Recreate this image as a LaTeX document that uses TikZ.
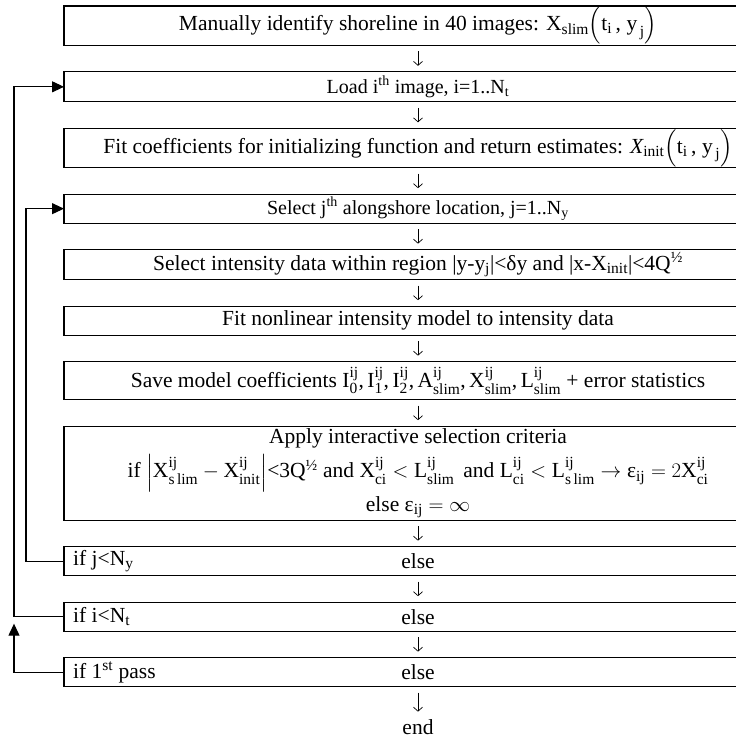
\documentclass[tikz,border=0pt]{standalone}
\usepackage{fontspec}
\usepackage{amsmath}
\usepackage{tikz}
\usetikzlibrary{arrows.meta, positioning, calc}
\setmainfont{Liberation Serif}
\DeclareMathSizes{21.5}{21.5}{15.5}{12}
\newcommand{\ttxt}[1]{\text{#1}}
\tikzset{
  stepbox/.style={rectangle, draw=black, minimum width=708pt, outer sep=0pt,
    align=center, inner sep=1pt, line width=1.1pt},
  smallbox/.style={stepbox, font=\fontsize{20}{23}\selectfont},
  iftext/.style={anchor=west, inner sep=2pt},
  flowarrow/.style={-{Straight Barb[length=4pt, width=9pt]}, line width=0.7pt,
    shorten <=6pt, shorten >=6pt},
  looparrow/.style={-{Triangle[length=12pt, width=11pt]}, line width=1.1pt}
}

\begin{document}
\begin{tikzpicture}[x=1pt, y=-1pt, node distance=26.5pt,
  font=\fontsize{21.5}{24}\selectfont]
  \fill[white] (0,0) rectangle (735,743);
  \useasboundingbox (0,0) rectangle (735,743);
  \coordinate (outl) at (14,0);
  \coordinate (inl) at (26,0);

  \node[stepbox, minimum height=38pt, anchor=north west] (b1) at (64,6)
    {Manually identify shoreline in 40 images: $\ttxt{X}_{\ttxt{slim}}\Bigl(\ttxt{t}_{\ttxt{i}}\,\ttxt{,}\;\ttxt{y}_{\,\ttxt{j}}\Bigr)$};
  \node[smallbox, minimum height=30pt, below=of b1] (b2)
    {Load i\textsuperscript{th} image, i=1..N\textsubscript{t}};
  \node[stepbox, minimum height=38pt, below=of b2] (b3)
    {Fit coefficients for initializing function and return estimates: $\ttxt{\itshape X}_{\ttxt{init}}\Bigl(\ttxt{t}_{\ttxt{i}}\,\ttxt{,}\;\ttxt{y}_{\,\ttxt{j}}\Bigr)$};
  \node[smallbox, minimum height=29pt, below=of b3] (b4)
    {Select j\textsuperscript{th} alongshore location, j=1..N\textsubscript{y}};
  \node[stepbox, minimum height=30pt, below=of b4] (b5)
    {Select intensity data within region |y-y\textsubscript{j}|<δy and |x-X\textsubscript{init}|<4Q\textsuperscript{½}};
  \node[stepbox, minimum height=29pt, below=of b5] (b6)
    {Fit nonlinear intensity model to intensity data};
  \node[stepbox, minimum height=38pt, below=of b6] (b7)
    {Save model coefficients $\ttxt{I}^{\ttxt{ij}}_{\ttxt{0}}\ttxt{,}\,\ttxt{I}^{\ttxt{ij}}_{\ttxt{1}}\ttxt{,}\,\ttxt{I}^{\ttxt{ij}}_{\ttxt{2}}\ttxt{,}\,\ttxt{A}^{\ttxt{ij}}_{\ttxt{slim}}\ttxt{,}\,\ttxt{X}^{\ttxt{ij}}_{\ttxt{slim}}\ttxt{,}\,\ttxt{L}^{\ttxt{ij}}_{\ttxt{slim}}$ + error statistics};
  \node[stepbox, minimum height=94pt, below=of b7] (b8)
    {Apply interactive selection criteria\\[5pt]
     if $\Bigl|\ttxt{X}^{\ttxt{ij}}_{\ttxt{s\,lim}} - \ttxt{X}^{\ttxt{ij}}_{\ttxt{init}}\Bigr|$<3Q\textsuperscript{½} and $\ttxt{X}^{\ttxt{ij}}_{\ttxt{ci}} < \ttxt{L}^{\ttxt{ij}}_{\ttxt{slim}}$ \,and $\ttxt{L}^{\ttxt{ij}}_{\ttxt{ci}} < \ttxt{L}^{\ttxt{ij}}_{\ttxt{s\,lim}} \rightarrow \ttxt{ε}_{\ttxt{ij}} = 2\ttxt{X}^{\ttxt{ij}}_{\ttxt{ci}}$\\[4pt]
     else $\ttxt{ε}_{\ttxt{ij}} = \infty$};
  \node[stepbox, minimum height=29pt, below=of b8] (b9) {else};
  \node[stepbox, minimum height=29pt, below=of b9] (b10) {else};
  \node[stepbox, minimum height=29pt, below=of b10] (b11) {else};
  \node[below=31pt of b11, inner sep=2pt] (fin) {end};

  \node[iftext] (c9) at ([xshift=7pt]b9.west) {if j<N\textsubscript{y}};
  \node[iftext] (c10) at ([xshift=7pt]b10.west) {if i<N\textsubscript{t}};
  \node[iftext] (c11) at ([xshift=7pt]b11.west) {if 1\textsuperscript{st} pass};

  \foreach \a/\b in {b1/b2, b2/b3, b3/b4, b4/b5, b5/b6, b6/b7, b7/b8,
                     b8/b9, b9/b10, b10/b11, b11/fin}
    \draw[flowarrow] (\a) -- (\b);

  \coordinate (uptip) at ($(outl |- b10.west)+(0,7)$);
  \draw[looparrow] (b9.west) -| (inl |- b4.west) -- (b4.west);
  \draw[looparrow] (b10.west) -| (outl |- b2.west) -- (b2.west);
  \draw[looparrow] (b11.west) -| (uptip);
\end{tikzpicture}
\end{document}
